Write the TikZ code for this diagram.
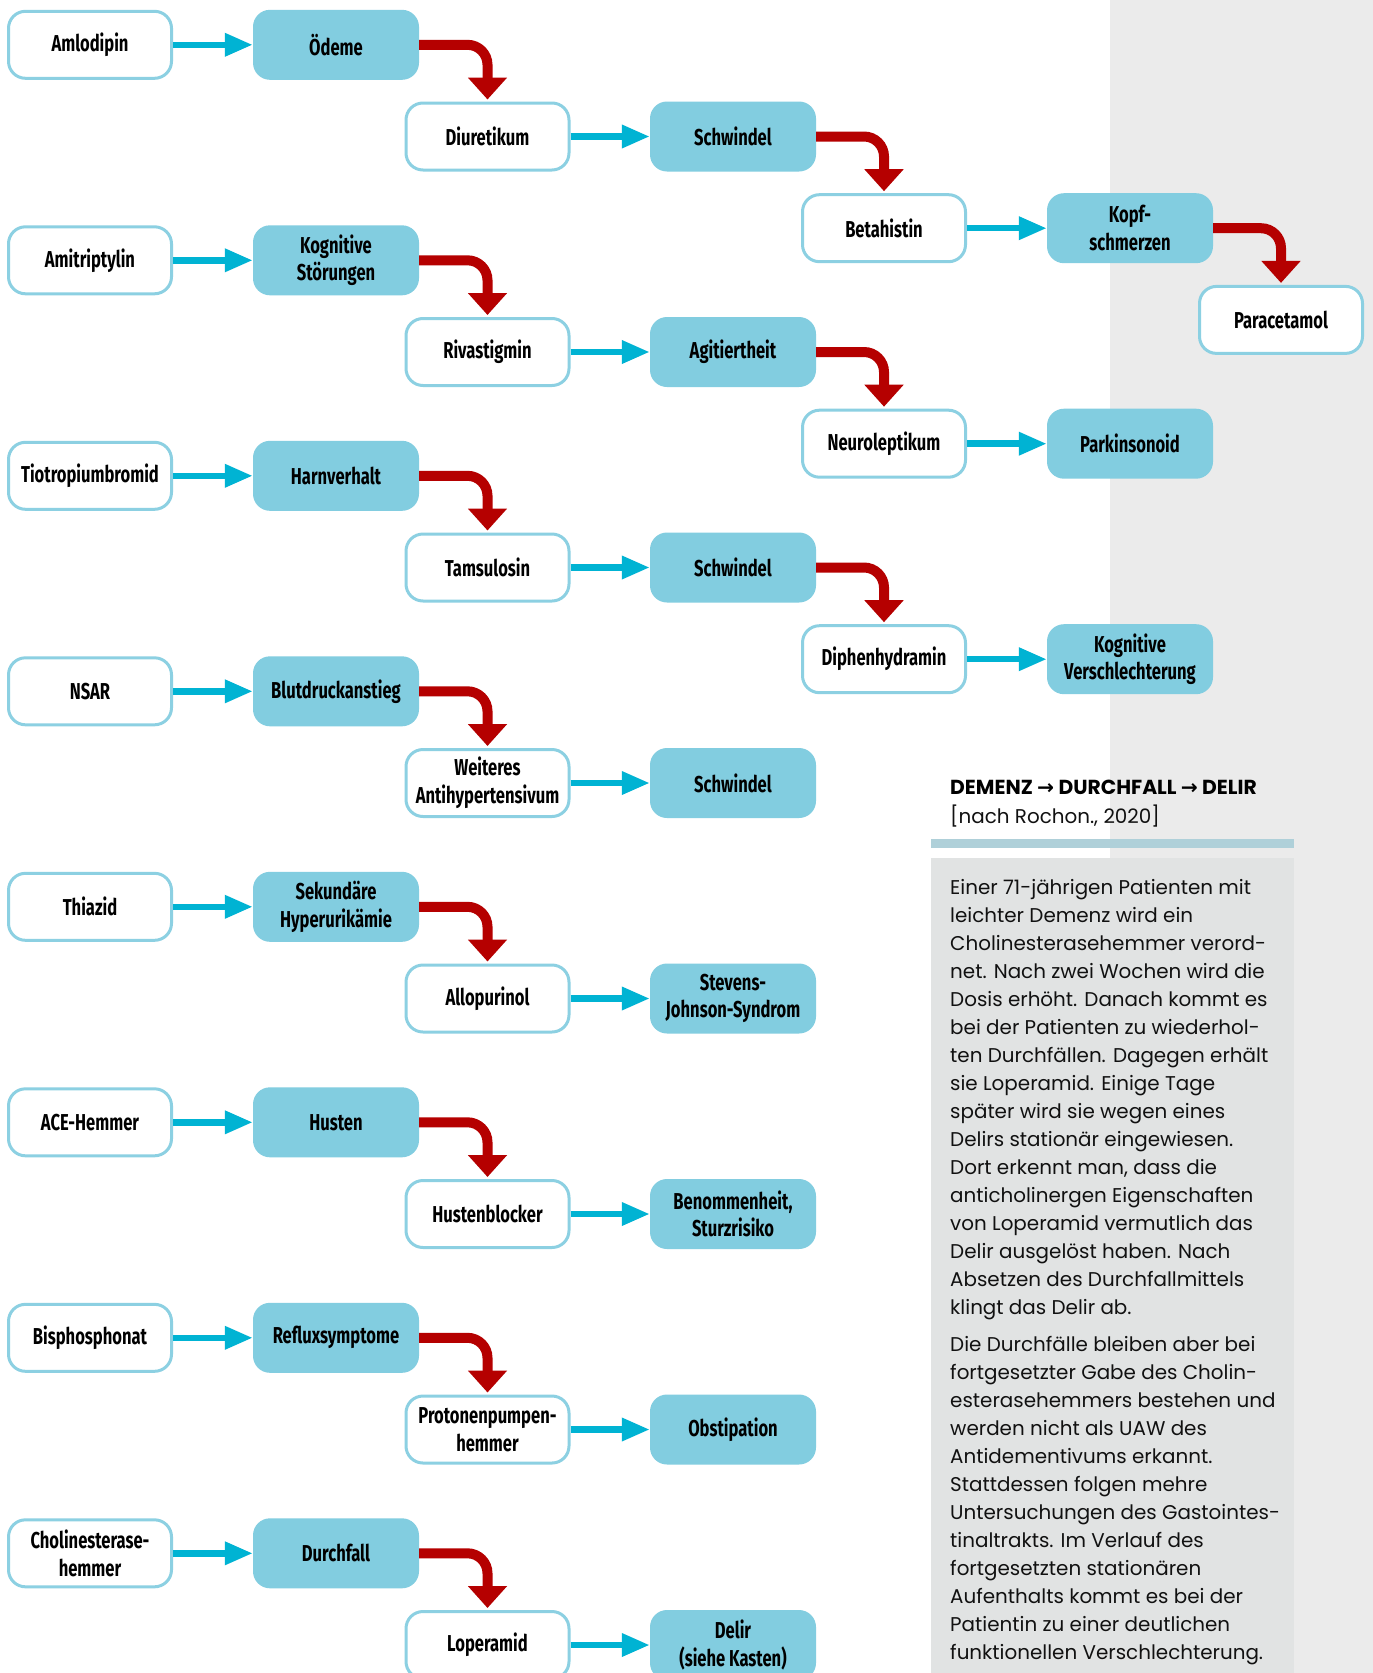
\documentclass[tikz,border=0pt]{standalone}
\usepackage{fontspec}
\setmainfont{Fira Sans}
\newfontfamily\nodefont{Fira Sans}[FakeStretch=0.72]
\newfontfamily\boxfont{Poppins}
\newfontfamily\arrfont{DejaVu Sans}
\usetikzlibrary{arrows.meta}
\definecolor{boxfill}{HTML}{82CDE0}
\definecolor{boxborder}{HTML}{8CD0E2}
\definecolor{cyanarr}{HTML}{00B3D3}
\definecolor{redarr}{HTML}{B50000}
\definecolor{pagegray}{HTML}{EBEBEB}
\definecolor{textgray}{HTML}{E1E3E3}
\definecolor{barblue}{HTML}{AFD0D9}
\definecolor{txt}{HTML}{111111}
\begin{document}
\begin{tikzpicture}[x=1pt,y=-1pt,
 base/.style={rounded corners=17pt, align=center, inner sep=0pt,
   font=\nodefont\bfseries\fontsize{23}{27.7}\selectfont},
 drug/.style={base, draw=boxborder, line width=3pt, fill=white, minimum width=163pt, minimum height=67pt},
 effect/.style={base, fill=boxfill, minimum width=166pt, minimum height=70pt},
 cyanarrow/.style={draw=cyanarr, line width=6.5pt, -{Triangle[length=28pt,width=22pt]}},
 redarrow/.style={draw=redarr, line width=10pt, rounded corners=20pt, -{Triangle[length=22pt,width=38pt]}, shorten >=2pt},
 body/.style={anchor=north west, inner sep=0pt, align=left, text=txt,
   font=\boxfont\fontsize{19.9}{28}\selectfont},
]
\useasboundingbox (0,0) rectangle (1373,1673);
\clip (0,0) rectangle (1373,1673);
\fill[white] (0,0) rectangle (1373,1673);
\fill[pagegray] (1110,0) rectangle (1373,1673);
\fill[barblue] (931,839) rectangle (1294,848);
\fill[textgray] (931,858) rectangle (1294,1673);

% Group 1
\node[drug]   (A1) at (90,44.8) {Amlodipin};
\node[effect] (A2) at (336,44.8) {Ödeme};
\node[drug]   (A3) at (487.5,136.5) {Diuretikum};
\node[effect] (A4) at (733,136.5) {Schwindel};
\node[drug]   (A5) at (884,228.2) {Betahistin};
\node[effect] (A6) at (1130,228.2) {Kopf-\\schmerzen};
\node[drug]   (A7) at (1281,319.9) {Paracetamol};
% Group 2
\node[drug]   (B1) at (90,260.3) {Amitriptylin};
\node[effect] (B2) at (336,260.3) {Kognitive\\Störungen};
\node[drug]   (B3) at (487.5,352) {Rivastigmin};
\node[effect] (B4) at (733,352) {Agitiertheit};
\node[drug]   (B5) at (884,443.7) {Neuroleptikum};
\node[effect] (B6) at (1130,443.7) {Parkinsonoid};
% Group 3
\node[drug]   (C1) at (90,475.8) {Tiotropiumbromid};
\node[effect] (C2) at (336,475.8) {Harnverhalt};
\node[drug]   (C3) at (487.5,567.5) {Tamsulosin};
\node[effect] (C4) at (733,567.5) {Schwindel};
\node[drug]   (C5) at (884,659.2) {Diphenhydramin};
\node[effect] (C6) at (1130,659.2) {Kognitive\\Verschlechterung};
% Group 4
\node[drug]   (D1) at (90,691.3) {NSAR};
\node[effect] (D2) at (336,691.3) {Blutdruckanstieg};
\node[drug]   (D3) at (487.5,783) {Weiteres\\Antihypertensivum};
\node[effect] (D4) at (733,783) {Schwindel};
% Group 5
\node[drug]   (E1) at (90,906.8) {Thiazid};
\node[effect] (E2) at (336,906.8) {Sekundäre\\Hyperurikämie};
\node[drug]   (E3) at (487.5,998.5) {Allopurinol};
\node[effect] (E4) at (733,998.5) {Stevens-\\Johnson-Syndrom};
% Group 6
\node[drug]   (F1) at (90,1122.3) {ACE-Hemmer};
\node[effect] (F2) at (336,1122.3) {Husten};
\node[drug]   (F3) at (487.5,1214) {Hustenblocker};
\node[effect] (F4) at (733,1214) {Benommenheit,\\Sturzrisiko};
% Group 7
\node[drug]   (G1) at (90,1337.8) {Bisphosphonat};
\node[effect] (G2) at (336,1337.8) {Refluxsymptome};
\node[drug]   (G3) at (487.5,1429.5) {Protonenpumpen-\\hemmer};
\node[effect] (G4) at (733,1429.5) {Obstipation};
% Group 8
\node[drug]   (H1) at (90,1553.3) {Cholinesterase-\\hemmer};
\node[effect] (H2) at (336,1553.3) {Durchfall};
\node[drug]   (H3) at (487.5,1645) {Loperamid};
\node[effect] (H4) at (733,1645) {Delir\\(siehe Kasten)};

% cyan arrows
\foreach \a/\b in {A1/A2,A3/A4,A5/A6,B1/B2,B3/B4,B5/B6,C1/C2,C3/C4,C5/C6,D1/D2,D3/D4,E1/E2,E3/E4,F1/F2,F3/F4,G1/G2,G3/G4,H1/H2,H3/H4}
  \draw[cyanarrow] (\a.east) -- (\b.west);
% red arrows
\foreach \a/\b in {A2/A3,A4/A5,A6/A7,B2/B3,B4/B5,C2/C3,C4/C5,D2/D3,E2/E3,F2/F3,G2/G3,H2/H3}
  \draw[redarrow] (\a.east) -| (\b.north);

% text box
\node[anchor=base west, inner sep=0pt, text=black, font=\boxfont\bfseries\fontsize{20.3}{23}\selectfont] (head) at (950,794)
  {DEMENZ {\arrfont→} DURCHFALL {\arrfont→} DELIR};
\node[anchor=base west, inner sep=0pt, text=txt, font=\boxfont\fontsize{19.9}{23}\selectfont] (cite) at (950,823)
  {[nach Rochon., 2020]};
\node[body] (p1) at (950,879) {Einer 71-jährigen Patienten mit\\
leichter Demenz wird ein\\
Cholinesterasehemmer verord-\\
net. Nach zwei Wochen wird die\\
Dosis erhöht. Danach kommt es\\
bei der Patienten zu wiederhol-\\
ten Durchfällen. Dagegen erhält\\
sie Loperamid. Einige Tage\\
später wird sie wegen eines\\
Delirs stationär eingewiesen.\\
Dort erkennt man, dass die\\
anticholinergen Eigenschaften\\
von Loperamid vermutlich das\\
Delir ausgelöst haben. Nach\\
Absetzen des Durchfallmittels\\
klingt das Delir ab.};
\node[body] (p2) at (950,1336) {Die Durchfälle bleiben aber bei\\
fortgesetzter Gabe des Cholin-\\
esterasehemmers bestehen und\\
werden nicht als UAW des\\
Antidementivums erkannt.\\
Stattdessen folgen mehre\\
Untersuchungen des Gastointes-\\
tinaltrakts. Im Verlauf des\\
fortgesetzten stationären\\
Aufenthalts kommt es bei der\\
Patientin zu einer deutlichen\\
funktionellen Verschlechterung.};
\end{tikzpicture}
\end{document}
